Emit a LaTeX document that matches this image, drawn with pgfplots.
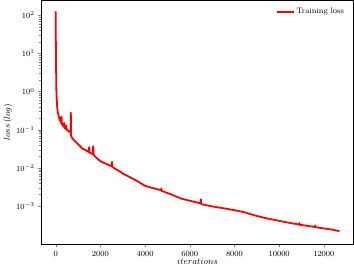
\documentclass[border=0pt]{standalone}
\usepackage{pgfplots}
\pgfplotsset{compat=1.18}

\begin{document}
\begin{tikzpicture}
\begin{axis}[
    scale only axis,
    width=314pt,
    height=245pt,
    ymode=log,
    xmin=-635, xmax=13335,
    ymin=1.02e-4, ymax=245,
    xtick={0,2000,4000,6000,8000,10000,12000},
    ytick={1e-3,1e-2,1e-1,1e0,1e1,1e2},
    scaled x ticks=false,
    /pgf/number format/1000 sep={},
    tick align=outside,
    xtick pos=bottom,
    ytick pos=left,
    major tick length=3.5pt,
    minor tick length=2pt,
    tick label style={font=\footnotesize},
    label style={font=\small},
    xlabel={$iterations$},
    ylabel={$loss\,(log)$},
    xlabel style={yshift=4pt},
    ylabel style={yshift=-3pt},
    axis line style={line width=0.6pt},
    legend style={draw=white, fill=white, font=\footnotesize, at={(0.985,0.985)}, anchor=north east},
    legend cell align=left,
]
\addplot[red, line width=1.8pt, line join=round] coordinates {
    (0,125) (15,8) (30,1.2) (45,0.7) (70,0.38) (100,0.28) (140,0.22)
    (170,0.19) (200,0.17) (215,0.21) (230,0.16) (250,0.15) (265,0.22) (280,0.14)
    (320,0.13) (360,0.12) (380,0.15) (400,0.11) (450,0.105) (470,0.13) (490,0.1)
    (550,0.095) (620,0.088) (670,0.085) (680,0.28) (690,0.07) (720,0.063)
    (800,0.055) (900,0.048) (1000,0.042) (1100,0.037) (1200,0.032)
    (1350,0.029) (1480,0.026) (1500,0.035) (1520,0.025) (1660,0.023) (1680,0.037)
    (1700,0.022) (1800,0.019) (2000,0.015) (2200,0.0132) (2400,0.0117)
    (2510,0.011) (2520,0.0145) (2535,0.0106) (2700,0.0092) (2900,0.0079)
    (3000,0.0071) (3300,0.0058) (3600,0.0047) (4000,0.0034) (4400,0.0029)
    (4720,0.0026) (4730,0.0029) (4745,0.0025) (5190,0.0020) (5600,0.00158)
    (6000,0.00138) (6300,0.00125) (6490,0.00118) (6500,0.00151) (6515,0.00112)
    (7000,0.00098) (7500,0.00088) (8000,0.00078) (8400,0.00070) (8700,0.00062)
    (9000,0.00055) (9500,0.00047) (10000,0.00041) (10500,0.00036)
    (10900,0.00033) (10910,0.00036) (10925,0.00032) (11000,0.00032)
    (11500,0.00029) (11600,0.00028) (11610,0.00031) (11625,0.00028)
    (12000,0.00026) (12400,0.00024) (12700,0.00022)
};
\addlegendentry{Training loss}
\end{axis}
\end{tikzpicture}
\end{document}
